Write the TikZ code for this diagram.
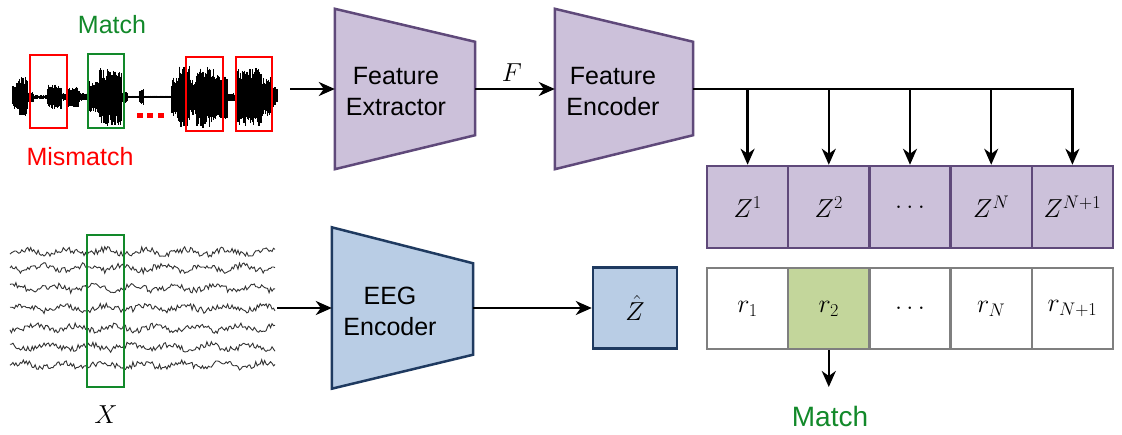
\documentclass[tikz,border=0pt]{standalone}
\usepackage{fix-cm}
\usepackage{fontspec}
\newfontfamily\arialf{Liberation Sans}
\usetikzlibrary{arrows.meta,calc}
\definecolor{purfill}{HTML}{CCC1DA}
\definecolor{purdraw}{HTML}{5F497A}
\definecolor{bluefill}{HTML}{B9CDE5}
\definecolor{bluedraw}{HTML}{1F3A60}
\definecolor{grnfill}{HTML}{C3D69B}
\definecolor{celldraw}{HTML}{7F7F7F}
\definecolor{mgreen}{HTML}{12892A}
\definecolor{mred}{HTML}{FF0000}
\begin{document}
\begin{tikzpicture}[x=1pt,y=-1pt,
 conn/.style={line width=2.3pt,-{Stealth[length=16pt,width=14pt,inset=5pt]}},
 lbl/.style={font=\arialf\fontsize{25}{31}\selectfont, align=center, inner sep=0},
 mth/.style={font=\fontsize{26}{30}\selectfont, inner sep=0},
 zcell/.style={draw=purdraw, fill=purfill, line width=2.5pt, minimum width=81.2pt, minimum height=82pt, inner sep=0, font=\fontsize{26}{30}\selectfont},
 rcell/.style={draw=celldraw, fill=white, line width=2.5pt, minimum width=81.2pt, minimum height=81pt, inner sep=0, font=\fontsize{26}{30}\selectfont},
 redbox/.style={draw=mred, line width=2pt, inner sep=0},
 grnbox/.style={draw=mgreen, line width=2pt, inner sep=0},
 trapbox/.style={inner sep=0, minimum width=140pt, minimum height=160pt},
 purtrap/.style={draw=purdraw, fill=purfill, line width=2.5pt, line join=miter},
 bluetrap/.style={draw=bluedraw, fill=bluefill, line width=2.5pt, line join=miter}
]
\useasboundingbox (0,0) rectangle (1122,435);

% ---------------- audio waveform ----------------
\pgfmathsetseed{7}
\draw[line width=1pt] (13,97) -- (278,97);
\foreach \a/\b/\m in {13/17/12, 17/28/20, 28/34/5, 34/48/2, 48/62/13, 62/68/4, 68/80/10, 80/88/4,
  88/100/16, 100/122/29, 122/128/6, 128/140/1.5, 140/144/8, 144/172/1.5, 172/178/22, 178/190/31,
  190/197/18, 197/215/31, 215/228/22, 228/238/4, 238/262/29, 262/272/20, 272/278/10}{
  \pgfmathsetmacro\aa{\a+0.6}
  \foreach \x in {\a,\aa,...,\b}{
    \pgfmathsetmacro\up{97-\m*(0.5+0.5*rnd)}
    \pgfmathsetmacro\dn{97+\m*(0.5+0.5*rnd)}
    \draw[line width=1.1pt] (\x,\up) -- (\x,\dn);
  }
}
\node[redbox, minimum width=37pt, minimum height=73pt] (mm1) at (48.5,91.5) {};
\node[grnbox, minimum width=36pt, minimum height=74pt] (mt1) at (106,91) {};
\node[redbox, minimum width=37pt, minimum height=74pt] (mm2) at (204.5,94) {};
\node[redbox, minimum width=36pt, minimum height=74pt] (mm3) at (254,94) {};
\fill[mred] (137,113) rectangle (143,118);
\fill[mred] (147,113) rectangle (153,118);
\fill[mred] (158,113) rectangle (164,118);
\node[lbl, text=mgreen] (matchtop) at (112,25) {Match};
\node[lbl, text=mred] (mismatch) at (80,157) {Mismatch};
\coordinate (wavend) at (290,89);

% ---------------- EEG traces ----------------
\pgfmathsetseed{11}
\foreach \yy in {252,268,288,308,328,347,365}{
  \draw[line width=0.9pt, black!80] plot[domain=10:275, samples=180]
    (\x, {\yy + 3*rand + 2.5*sin(9*\x+\yy*13)});
}
\node[grnbox, minimum width=37pt, minimum height=152pt] (xwin) at (105.5,311) {};
\node[mth] (xlbl) at (106,415) {$X$};
\coordinate (eegend) at (277,308);

% ---------------- encoders ----------------
\node[trapbox, minimum width=140pt, minimum height=160pt] (fx) at (405,89) {};
\draw[purtrap] (fx.north west) -- ($(fx.north east)+(0,33)$) -- ($(fx.south east)+(0,-34)$) -- (fx.south west) -- cycle;
\node[lbl] (fxt) at (396,92) {Feature\\Extractor};

\node[trapbox, minimum width=138pt, minimum height=160pt] (fenc) at (624,89) {};
\draw[purtrap] (fenc.north west) -- ($(fenc.north east)+(0,33)$) -- ($(fenc.south east)+(0,-34)$) -- (fenc.south west) -- cycle;
\node[lbl] (fenct) at (613,92) {Feature\\Encoder};

\node[trapbox, minimum width=141pt, minimum height=161pt] (eeg) at (402.5,308) {};
\draw[bluetrap] (eeg.north west) -- ($(eeg.north east)+(0,36)$) -- ($(eeg.south east)+(0,-34)$) -- (eeg.south west) -- cycle;
\node[lbl] (eegt) at (390,311) {EEG\\Encoder};

\node[draw=bluedraw, fill=bluefill, line width=2.5pt, minimum width=84pt, minimum height=81pt, inner sep=0, font=\fontsize{26}{30}\selectfont] (zhat) at (635,308) {$\hat{Z}$};

% ---------------- cells ----------------
\node[zcell] (z1) at (747.6,207) {$Z^{1}$};
\node[zcell] (z2) at (828.8,207) {$Z^{2}$};
\node[zcell] (z3) at (910.0,207) {$\ldots$};
\node[zcell] (z4) at (991.2,207) {$Z^{N}$};
\node[zcell] (z5) at (1072.4,207) {$Z^{N+1}$};

\node[rcell] (r1) at (747.6,308.5) {$r_{1}$};
\node[rcell, fill=grnfill] (r2) at (828.8,308.5) {$r_{2}$};
\node[rcell] (r3) at (910.0,308.5) {$\ldots$};
\node[rcell] (r4) at (991.2,308.5) {$r_{N}$};
\node[rcell] (r5) at (1072.4,308.5) {$r_{N+1}$};

\node[lbl, font=\arialf\fontsize{28}{32}\selectfont, text=mgreen] (matchbot) at (830,416) {Match};
\coordinate (mtip) at (828.8,387);

% ---------------- connectors ----------------
\draw[conn] (wavend) -- (fx.west);
\draw[conn] (fx.east) -- (fenc.west);
\node[mth] (flbl) at (512,73) {$F$};
\draw[conn] (fenc.east) -| (z5.north);
\foreach \i in {1,2,3,4}{
  \draw[conn] (fenc.east -| z\i.north) -- (z\i.north);
}
\draw[conn] (eegend) -- (eeg.west);
\draw[conn] (eeg.east) -- (zhat.west);
\draw[conn] (r2.south) -- (mtip);
\end{tikzpicture}
\end{document}
